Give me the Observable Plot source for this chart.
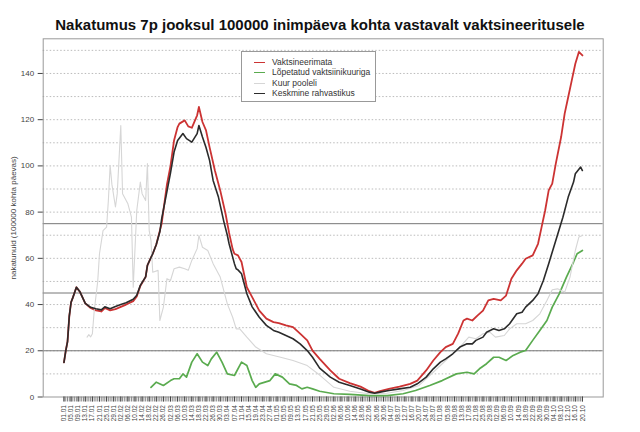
<!DOCTYPE html>
<html><head><meta charset="utf-8">
<script src="https://cdn.jsdelivr.net/npm/d3@7"></script>
<script src="https://cdn.jsdelivr.net/npm/@observablehq/plot@0.6"></script>
<style>
body{margin:0;background:#fff;font-family:"Liberation Sans",Arial,sans-serif;}
#wrap{position:relative;width:640px;height:432px;overflow:hidden;}
#title{height:32px;box-sizing:border-box;padding-top:17px;line-height:16px;text-align:center;font-weight:bold;font-size:15px;color:#111;white-space:nowrap;}
#legend{position:absolute;left:241px;top:51px;width:135px;height:51px;border:1px solid #999;background:#fff;box-sizing:border-box;font-size:8.5px;color:#333;}
.row{position:absolute;left:0;height:10px;line-height:10px;white-space:nowrap;}
.sw{position:absolute;left:12px;top:5px;width:11px;height:0;}
.lt{position:absolute;left:30px;top:0;}
</style></head>
<body>
<div id="wrap">
<div id="title"></div>
<div id="chart"></div>
<div id="legend"></div>
</div>
<script>
const title = "Nakatumus 7p jooksul 100000 inimpäeva kohta vastavalt vaktsineeritusele";
const yLabel = "nakatunuid (100000 kohta päevas)";
const seriesNames = ["Vaktsineerimata", "Lõpetatud vaktsiinikuuriga", "Kuur pooleli", "Keskmine rahvastikus"];
const seriesColors = ["#cc3333", "#5aab4f", "#d6d6d6", "#2b2b2b"];

const xLabels = ["01.01","05.01","09.01","13.01","17.01","21.01","25.01","29.01","02.02","06.02","10.02","14.02","18.02","22.02","26.02","02.03","06.03","10.03","14.03","18.03","22.03","26.03","30.03","03.04","07.04","11.04","15.04","19.04","23.04","27.04","01.05","05.05","09.05","13.05","17.05","21.05","25.05","29.05","02.06","06.06","10.06","14.06","18.06","22.06","26.06","30.06","04.07","08.07","12.07","16.07","20.07","24.07","28.07","01.08","05.08","09.08","13.08","17.08","21.08","25.08","29.08","02.09","06.09","10.09","14.09","18.09","22.09","26.09","30.09","04.10","08.10","12.10","16.10","20.10"];
const yTicks = [0,20,40,60,80,100,120,140];
const gridVals = [10,20,30,40,50,60,70,80,90,100,110,120,130,140,150];
const refLines = [20,45,75];

// Vaktsineerimata (red)
const redDays = [0,1,2,3,4,5,7,9,12,15,18,21,23,26,29,32,35,39,41,43,46,47,50,52,54,55,58,60,62,64,65,68,70,72,75,76,78,80,82,85,88,91,93,95,96,98,100,103,106,110,114,118,121,125,129,133,137,140,144,150,155,161,167,172,175,178,183,189,195,199,204,208,212,215,219,222,225,227,230,233,236,239,242,246,249,252,255,258,260,264,267,269,271,273,275,277,280,282,284,286,288,290,292];
const redVals = [15,20,24,35,41,43,47.5,45.5,40.5,38.5,37.5,37,38.5,37.5,38,39,40,41.5,43.5,48,52,57,62,66,72,75,92,100,111,116.8,118.3,119.7,117.1,116.5,121.9,125.5,119,115.4,108.1,98,89.4,79.3,71,64,62,61.3,58.4,47.5,43.2,37.4,33.9,32.4,32,31,30.2,27.4,24.5,20.1,16.5,11.5,7.9,6,4.5,2.5,1.8,2.5,3.5,4.5,5.7,7.1,11.5,15.8,19.4,21.6,23,27.4,33.1,33.9,33.1,35.3,37.4,41.8,42.5,41.8,43.9,51.2,54.8,57.7,59.8,61.3,66.3,73.5,80.7,89.4,92.3,101,112.5,122.6,129.8,137,144.2,149.3,147.8];

// Lõpetatud vaktsiinikuuriga (green)
const greenDays = [49,52,56,60,62,65,67,69,72,75,78,81,83,86,89,92,96,100,103,106,108,110,116,119,123,127,131,134,137,140,144,152,161,172,182,191,198,206,213,221,227,231,234,238,242,245,249,253,257,260,264,268,272,275,279,283,287,289,292];
const greenVals = [4.2,6.4,5,7.1,7.9,7.9,10,8.6,15.1,18.7,15.1,13.6,16.5,19.4,15.1,10,9.3,15.1,13.6,7.1,4.2,5.7,7.1,10,8.6,5.7,5,3.5,4.2,3.5,2.5,1.4,1.1,0.6,0.6,1.4,2.8,5,7.1,10,10.7,10,12.2,14.4,17.2,17.2,15.8,18,19.4,20.1,24.5,28.8,33.1,38.9,44.7,51.9,58.4,62,63.4];

// Kuur pooleli (light gray)
const grayDays = [13,14,15,16,17,19,20,22,24,25,26,27,29,30,32,33,36,38,39,41,43,44,46,47,48,49,50,53,54,56,58,60,62,65,68,70,72,75,76,78,81,84,88,92,95,97,99,103,108,114,122,129,137,144,152,161,172,182,191,200,208,215,223,228,232,236,240,243,248,251,255,260,264,268,272,275,278,282,285,288,290,292];
const grayVals = [25.9,27,26,27.4,37,50,62,72,73.5,85,100.2,92,82.2,88,117.5,88,83.6,77.8,47.5,80.7,93,88,85,101,72,67.7,54,54.8,33.1,38.9,51.2,50.4,55.5,56.2,55.5,54.8,59.1,64.2,69.9,64.8,63.4,57.7,51.9,40.3,34.5,29.5,29.5,25.9,21.6,18.7,17.2,15.8,13.6,9.5,4.2,2.5,1.4,1.6,2.8,5,10.7,15.8,21.6,25.9,25.2,27.4,28,25.9,26.6,29.5,31.7,31.7,33.1,36,41.8,46.4,46.8,45.4,51.9,63.4,69.2,69.9];

// Keskmine rahvastikus (black)
const blackDays = [0,1,2,3,4,5,7,9,12,15,18,21,23,26,29,32,35,39,41,43,46,47,50,52,54,55,57,60,62,64,67,69,72,75,76,78,80,82,84,87,90,92,93,96,97,98,100,103,106,110,114,118,121,125,129,133,137,140,144,150,155,161,167,172,175,178,183,189,195,199,204,208,212,215,219,223,227,230,232,236,238,242,245,248,251,255,258,260,264,267,270,273,277,281,284,287,288,291,292];
const blackVals = [15,20,24,35,41,43,47.5,45.5,40.5,38.8,38.2,37.7,39,38.2,39.2,40,40.8,42.3,44,48.3,52,57,62,66,71.5,77,85,97,106,111,114,111.8,110.3,114,117.5,112.5,108,102.4,93.7,86.5,76,70,66.3,57.7,55.5,55,53.3,44.7,39,34.5,31,28.8,28,26.6,25.2,23,20.1,17.2,12.5,8.6,6.4,5,3.5,2.1,1.6,2.1,2.8,3.5,4.2,5.7,8.6,12.2,15.1,16.5,18.7,21.6,23,23,24.5,25.9,28,29.5,28.8,29.5,31.7,36,36.7,38.9,41.8,44.7,50.4,57.7,67.7,77.8,86.5,93,96.6,99.5,98];

const toRows = (days, vals) => days.map((d, i) => ({day: d, v: vals[i]}));
const series = [toRows(redDays, redVals), toRows(greenDays, greenVals), toRows(grayDays, grayVals), toRows(blackDays, blackVals)];
const widths = [1.8, 1.7, 1.1, 1.6];

const allDays = d3.range(0, 293);
const labelDays = d3.range(0, 293, 4);

document.getElementById("title").textContent = title;

const chart = Plot.plot({
  width: 640,
  height: 400,
  marginTop: 6.3,
  marginBottom: 35.5,
  marginLeft: 42.7,
  marginRight: 37.3,
  style: {fontFamily: "'Liberation Sans', Arial, sans-serif", background: "#fff", overflow: "visible"},
  x: {domain: [-11.7, 303.7]},
  y: {domain: [0, 155]},
  marks: [
    Plot.gridY(gridVals, {stroke: "#bbb", strokeOpacity: 1, strokeDasharray: "1.5,2"}),
    Plot.ruleY(refLines, {stroke: "#777", strokeWidth: 1}),
    Plot.frame({stroke: "#999"}),
    Plot.axisY(yTicks, {tickSize: 5, fontSize: 8, color: "#444", label: yLabel, labelAnchor: "center", labelArrow: "none", labelOffset: 33}),
    Plot.axisX(allDays, {tickSize: 5, tickFormat: () => "", color: "#888", label: null}),
    Plot.axisX(labelDays, {tickSize: 5, tickRotate: -90, tickPadding: 3, fontSize: 6.5, color: "#444", tickFormat: d => xLabels[d / 4], label: null}),
    ...series.map((s, i) => Plot.line(s, {x: "day", y: "v", stroke: seriesColors[i], strokeWidth: widths[i]}))
  ]
});
document.getElementById("chart").appendChild(chart);

const legend = document.getElementById("legend");
seriesNames.forEach((name, i) => {
  const row = document.createElement("div");
  row.className = "row";
  row.style.top = (5 + i * 10.4) + "px";
  row.style.width = "100%";
  const sw = document.createElement("span");
  sw.className = "sw";
  sw.style.borderTop = "1.5px solid " + seriesColors[i];
  const t = document.createElement("span");
  t.className = "lt";
  t.textContent = name;
  row.appendChild(sw); row.appendChild(t);
  legend.appendChild(row);
});
</script>
</body></html>
